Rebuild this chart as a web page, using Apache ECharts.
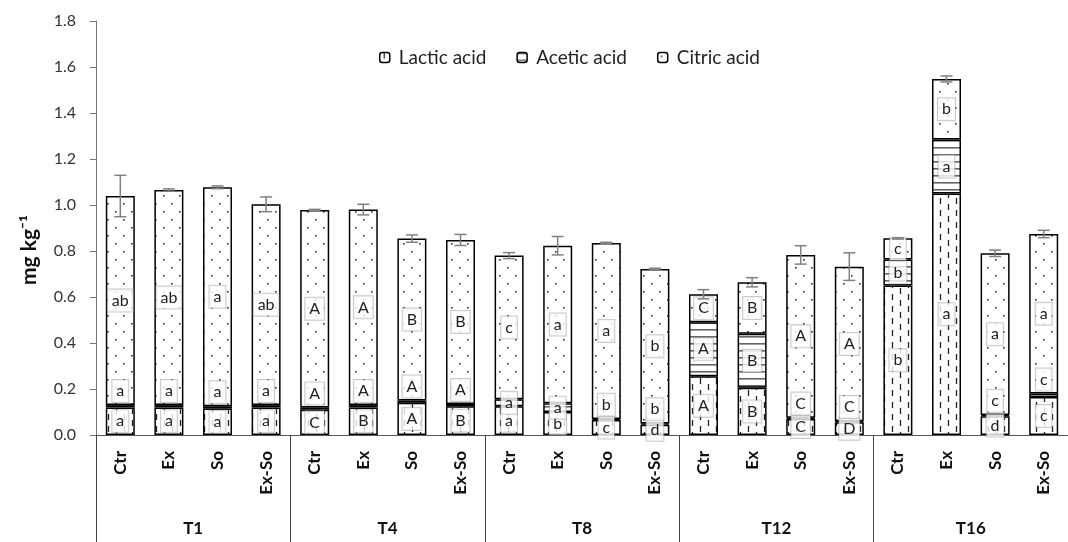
<!DOCTYPE html>
<html>
<head>
<meta charset="utf-8">
<script src="https://cdn.jsdelivr.net/npm/echarts@6/dist/echarts.min.js"></script>
<style>
  html, body { margin: 0; padding: 0; background: #fff; }
  #chart { width: 1068px; height: 542px; }
</style>
</head>
<body>
<div id="chart"></div>
<script>
// ---------- data ----------
const groups = ['T1', 'T4', 'T8', 'T12', 'T16'];
const treatments = ['Ctr', 'Ex', 'So', 'Ex-So'];

const lactic = [0.12, 0.12, 0.115, 0.12, 0.11, 0.12, 0.14, 0.125, 0.125, 0.10, 0.065, 0.045, 0.255, 0.205, 0.07, 0.055, 0.65, 1.05, 0.082, 0.165];
const acetic = [0.01, 0.01, 0.01, 0.01, 0.01, 0.01, 0.01, 0.01, 0.03, 0.038, 0.005, 0.005, 0.235, 0.235, 0.005, 0.005, 0.113, 0.235, 0.005, 0.015];
const citric = [0.909, 0.935, 0.952, 0.873, 0.858, 0.85, 0.704, 0.713, 0.625, 0.685, 0.765, 0.672, 0.122, 0.224, 0.708, 0.672, 0.092, 0.263, 0.703, 0.694];
const totalSD = [0.09, 0.005, 0.006, 0.032, 0.003, 0.023, 0.016, 0.024, 0.013, 0.04, 0.003, 0.003, 0.02, 0.02, 0.04, 0.06, 0.003, 0.013, 0.014, 0.016];

const lacticLetters = ['a','a','a','a', 'C','B','A','B', 'a','b','c','d', 'A','B','C','D', 'b','a','d','c'];
const aceticLetters = ['a','a','a','a', 'A','A','A','A', 'a','a','b','b', 'A','B','C','C', 'b','a','c','c'];
const citricLetters = ['ab','ab','a','ab', 'A','A','B','B', 'c','a','a','b', 'C','B','A','A', 'c','b','a','a'];

const yTicks = { min: 0, max: 1.8, interval: 0.2 };

// ---------- patterns ----------
function tile(w, h, draw) {
  const c = document.createElement('canvas');
  c.width = w; c.height = h;
  const ctx = c.getContext('2d');
  ctx.fillStyle = '#fff';
  ctx.fillRect(0, 0, w, h);
  draw(ctx);
  return { image: c, repeat: 'repeat' };
}
const lacticFill = tile(16, 12, ctx => {
  ctx.strokeStyle = '#222'; ctx.lineWidth = 1.3;
  ctx.beginPath();
  ctx.moveTo(4.5, 0); ctx.lineTo(4.5, 6);
  ctx.moveTo(12.5, 6); ctx.lineTo(12.5, 12);
  ctx.stroke();
});
const aceticFill = tile(4, 7, ctx => {
  ctx.fillStyle = '#666';
  ctx.fillRect(0, 0, 4, 1.6);
});
const citricFill = tile(16, 16, ctx => {
  ctx.fillStyle = '#333';
  ctx.fillRect(3, 3, 1.6, 1.6);
  ctx.fillRect(11, 11, 1.6, 1.6);
});

// ---------- build ----------
const cats = [];
groups.forEach(() => treatments.forEach(t => cats.push(t)));
const totals = lactic.map((v, i) => v + acetic[i] + citric[i]);

const font = 'Lato, "Open Sans", sans-serif';
const labelBase = {
  show: true,
  fontFamily: font,
  fontSize: 16,
  color: '#222',
  backgroundColor: 'rgba(255,255,255,0.8)',
  borderColor: 'rgba(150,150,150,0.5)',
  borderWidth: 1,
  padding: [3, 4]
};
const barItem = (fill) => ({ color: fill, borderColor: '#000', borderWidth: 1.5 });

function barSeries(name, values, letters, fill, smallTop) {
  return {
    name: name,
    type: 'bar',
    stack: 'acid',
    xAxisIndex: 0,
    barWidth: 29,
    itemStyle: barItem(fill),
    label: Object.assign({}, labelBase, { position: 'inside' }),
    data: values.map((v, i) => {
      const d = { value: v, label: { formatter: letters[i] } };
      if (smallTop && v < 0.025) { d.label.position = 'top'; d.label.distance = 3; }
      return d;
    })
  };
}

const option = {
  animation: false,
  backgroundColor: '#fff',
  textStyle: { fontFamily: font },
  grid: { left: 96, right: -11, top: 21, bottom: 107 },
  legend: {
    top: 43,
    left: 374,
    itemWidth: 10,
    itemHeight: 10,
    itemGap: 30,
    data: ['Lactic acid', 'Acetic acid', 'Citric acid'],
    itemStyle: { borderColor: '#000', borderWidth: 1.5 },
    textStyle: { fontFamily: font, fontSize: 19, color: '#222', padding: [0, 0, 0, 4] }
  },
  xAxis: [
    {
      type: 'category',
      data: cats,
      position: 'bottom',
      axisLine: { show: true, lineStyle: { color: '#555', width: 1 } },
      axisTick: { show: false },
      axisLabel: { interval: 0, rotate: 90, margin: 16, fontWeight: 'bold', fontSize: 17, color: '#111', fontFamily: font }
    },
    {
      type: 'category',
      data: groups,
      position: 'bottom',
      axisLine: { show: false },
      axisTick: { show: true, length: 107, lineStyle: { color: '#444', width: 1 } },
      axisLabel: { margin: 85, fontWeight: 'bold', fontSize: 17, color: '#111', fontFamily: font }
    }
  ],
  yAxis: {
    type: 'value',
    min: yTicks.min, max: yTicks.max, interval: yTicks.interval,
    axisLine: { show: true, lineStyle: { color: '#777' } },
    axisTick: { show: true, length: 6, lineStyle: { color: '#777' } },
    splitLine: { show: false },
    axisLabel: { formatter: v => v.toFixed(1), fontSize: 16, margin: 20, color: '#333', fontFamily: font },
    name: 'mg kg\u207B\u00B9',
    nameLocation: 'middle',
    nameGap: 56,
    nameTextStyle: { fontWeight: 'bold', fontSize: 21, color: '#111', fontFamily: font, padding: [0, 44, 0, 0] }
  },
  series: [
    barSeries('Lactic acid', lactic, lacticLetters, lacticFill, false),
    barSeries('Acetic acid', acetic, aceticLetters, aceticFill, true),
    barSeries('Citric acid', citric, citricLetters, citricFill, false),
    {
      type: 'custom',
      name: 'err',
      xAxisIndex: 0,
      z: 10,
      data: totals.map((t, i) => [i, t - totalSD[i], t + totalSD[i]]),
      renderItem: function (params, api) {
        const x = api.value(0);
        const lo = api.coord([x, api.value(1)]);
        const hi = api.coord([x, api.value(2)]);
        const w = 6;
        const style = { stroke: '#808080', lineWidth: 1.5 };
        return {
          type: 'group',
          children: [
            { type: 'line', shape: { x1: lo[0], y1: lo[1], x2: hi[0], y2: hi[1] }, style: style },
            { type: 'line', shape: { x1: hi[0] - w, y1: hi[1], x2: hi[0] + w, y2: hi[1] }, style: style },
            { type: 'line', shape: { x1: lo[0] - w, y1: lo[1], x2: lo[0] + w, y2: lo[1] }, style: style }
          ]
        };
      }
    }
  ]
};

const chart = echarts.init(document.getElementById('chart'), null, { renderer: 'canvas' });
chart.setOption(option);
</script>
</body>
</html>
